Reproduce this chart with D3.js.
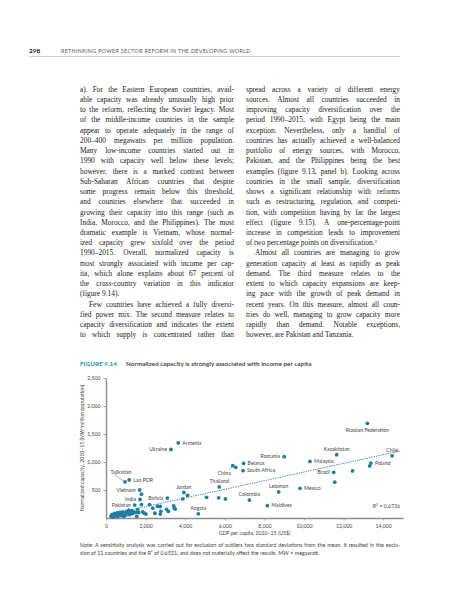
<!DOCTYPE html>
<html>
<head>
<meta charset="utf-8">
<script src="https://cdn.jsdelivr.net/npm/d3@7"></script>
<style>
  body { margin: 0; background: #fff; }
  svg { display: block; }
  .body-text { font-family: "Liberation Serif", "DejaVu Serif", serif; font-size: 7.4px; fill: #222; }
  .chart-text { font-family: Lato, "Open Sans", sans-serif; fill: #444; }
</style>
</head>
<body>
<svg id="page" width="457" height="600"></svg>
<script>
// --- data ---
const names = [
  "Russian Federation", "Kazakhstan", "Chile", "Romania", "Malaysia", "Belarus", "China", "",
  "South Africa", "Brazil", "Poland", "", "", "", "Thailand", "Lebanon", "Mexico", "Colombia",
  "Maldives", "", "", "", "Armenia", "Ukraine", "Tajikistan", "Lao PDR", "Vietnam", "", "India",
  "Pakistan", "", "", "Bolivia", "Jordan", "", "", "Angola",
  "", "", "", "", "", "", "", "", "", "", "", "", "", "", "", "", "", "", "",
  "", "", "", "", "", "", "", "", "", "", "", "", "", "", "", "", "", "", "", "", "", ""
];
const gdp = [
  13200, 11650, 14450, 9000, 10300, 6950, 6400, 6550,
  6920, 11500, 13380, 13320, 12450, 11550, 5720, 8720, 9800, 7240,
  8150, 5080, 5690, 6030, 3650, 3280, 960, 1170, 1700, 1790, 1720,
  1450, 1790, 2200, 3100, 3930, 4120, 3880, 4660,
  2740, 2770, 2740, 3060, 3150, 3420, 3450, 3500, 2360, 2470, 2600, 1850, 1930, 2020, 1600, 1500, 1550, 1650,
  250, 300, 380, 420, 500, 560, 600, 650, 700, 760, 800, 850, 900, 950, 1000, 1050, 1100, 1150, 1200, 1250, 1300, 1350, 1400, 1450, 1750, 1800
];
const capacity = [
  1690, 1130, 1110, 1095, 1010, 975, 935, 905,
  845, 815, 980, 930, 840, 640, 555, 465, 530, 320,
  220, 370, 360, 340, 1340, 1225, 645, 680, 500, 425, 330,
  230, 240, 240, 355, 455, 405, 340, 75,
  205, 120, 70, 155, 120, 215, 175, 160, 175, 85, 210, 110, 85, 70, 150, 100, 30, 95,
  30, 60, 20, 80, 40, 90, 25, 60, 100, 45, 70, 110, 30, 80, 50, 120, 90, 140, 60, 100, 130, 80, 110, 60, 140, 80
];
const xTicks = [0, 2000, 4000, 6000, 8000, 10000, 12000, 14000];
const yTicks = [500, 1000, 1500, 2000, 2500];
const trendGdp = [1200, 14850];
const trendSlope = 0.0772;
const trendIntercept = 49;
const rSquared = "0.6726";

const leftColumn = [
  "a). For the Eastern European countries, avail-",
  "able capacity was already unusually high prior",
  "to the reform, reflecting the Soviet legacy. Most",
  "of the middle-income countries in the sample",
  "appear to operate adequately in the range of",
  "200–400 megawatts per million population.",
  "Many low-income countries started out in",
  "1990 with capacity well below these levels;",
  "however, there is a marked contrast between",
  "Sub-Saharan African countries that despite",
  "some progress remain below this threshold,",
  "and countries elsewhere that succeeded in",
  "growing their capacity into this range (such as",
  "India, Morocco, and the Philippines). The most",
  "dramatic example is Vietnam, whose normal-",
  "ized capacity grew sixfold over the period",
  "1990–2015. Overall, normalized capacity is",
  "most strongly associated with income per cap-",
  "ita, which alone explains about 67 percent of",
  "the cross-country variation in this indicator",
  "(figure 9.14).",
  "Few countries have achieved a fully diversi-",
  "fied power mix. The second measure relates to",
  "capacity diversification and indicates the extent",
  "to which supply is concentrated rather than"
];
const rightColumn = [
  "spread across a variety of different energy",
  "sources. Almost all countries succeeded in",
  "improving capacity diversification over the",
  "period 1990–2015, with Egypt being the main",
  "exception. Nevertheless, only a handful of",
  "countries has actually achieved a well-balanced",
  "portfolio of energy sources, with Morocco,",
  "Pakistan, and the Philippines being the best",
  "examples (figure 9.13, panel b). Looking across",
  "countries in the small sample, diversification",
  "shows a significant relationship with reforms",
  "such as restructuring, regulation, and competi-",
  "tion, with competition having by far the largest",
  "effect (figure 9.15). A one-percentage-point",
  "increase in competition leads to improvement",
  "of two percentage points on diversification.",
  "Almost all countries are managing to grow",
  "generation capacity at least as rapidly as peak",
  "demand. The third measure relates to the",
  "extent to which capacity expansions are keep-",
  "ing pace with the growth of peak demand in",
  "recent years. On this measure, almost all coun-",
  "tries do well, managing to grow capacity more",
  "rapidly than demand. Notable exceptions,",
  "however, are Pakistan and Tanzania."
];
const noteLines = [
  "Note: A sensitivity analysis was carried out for exclusion of outliers two standard deviations from the mean. It resulted in the exclu-",
  "sion of 11 countries and the R² of 0.6531, and does not materially affect the results. MW = megawatt."
];

// label placement per named point (layout only)
const labelSide = {
  "Russian Federation": "below", "Kazakhstan": "above", "Chile": "above", "Romania": "left",
  "Malaysia": "right", "Belarus": "right", "China": "leaderBelow", "South Africa": "right",
  "Brazil": "left", "Poland": "right", "Thailand": "above", "Lebanon": "above", "Mexico": "right",
  "Colombia": "above", "Maldives": "right", "Armenia": "right", "Ukraine": "left",
  "Tajikistan": "leaderAbove", "Lao PDR": "right", "Vietnam": "left", "India": "left",
  "Pakistan": "left", "Bolivia": "left", "Jordan": "above", "Angola": "above"
};

const svg = d3.select("#page");
const teal = "#1f7fa3";

// justified text line helper (size set before measuring)
function textLine(g, str, x0, yb, width, justify, cls, size, sup) {
  const t = g.append("text").attr("class", cls).attr("x", x0).attr("y", yb)
    .style("font-size", size + "px");
  t.append("tspan").text(str);
  if (sup) t.append("tspan").style("font-size", (size * 0.62) + "px").attr("baseline-shift", "super").text(sup);
  if (justify) {
    const w = t.node().getComputedTextLength();
    const spaces = (str.match(/ /g) || []).length;
    if (spaces > 0) t.style("word-spacing", ((width - w) / spaces) + "px");
  }
  return t;
}

// --- running head ---
svg.append("text").attr("x", 29).attr("y", 53)
  .style("font-family", "Lato, sans-serif").style("font-weight", 700).style("font-size", "6.4px")
  .attr("fill", "#222").text("298");
svg.append("text").attr("x", 61).attr("y", 53)
  .style("font-family", "Lato, sans-serif").style("font-size", "5.3px").style("letter-spacing", "0.35px")
  .attr("fill", "#555").text("RETHINKING POWER SECTOR REFORM IN THE DEVELOPING WORLD");
svg.append("line").attr("x1", 29).attr("x2", 400).attr("y1", 56.5).attr("y2", 56.5)
  .attr("stroke", "#c8c8c8").attr("stroke-width", 0.8);

// --- body columns ---
const body = svg.append("g");
const lineH = 10.23, firstBase = 91.8, colW = 154;
leftColumn.forEach((s, i) => {
  const indent = i === 21 ? 9 : 0;
  textLine(body, s, 80 + indent, firstBase + i * lineH, colW - indent, i !== 20, "body-text", 7.4);
});
rightColumn.forEach((s, i) => {
  const indent = i === 16 ? 9 : 0;
  const justify = !(i === 15 || i === rightColumn.length - 1);
  textLine(body, s, 246 + indent, firstBase + i * lineH, colW - indent, justify, "body-text", 7.4,
    i === 15 ? "3" : null);
});

// --- figure title ---
svg.append("text").attr("x", 80).attr("y", 366)
  .style("font-family", "Lato, sans-serif").style("font-weight", 700).style("font-size", "6.4px")
  .attr("fill", "#2a8fb5").text("FIGURE 9.14");
svg.append("text").attr("x", 126).attr("y", 366)
  .style("font-family", "Lato, sans-serif").style("font-weight", 700).style("font-size", "6.4px")
  .attr("fill", "#4a4a4a").text("Normalized capacity is strongly associated with income per capita");

// --- chart ---
const x = d3.scaleLinear().domain([0, 15000]).range([106, 403]);
const y = d3.scaleLinear().domain([0, 2500]).range([518, 378]);
const chart = svg.append("g");

const xAxis = chart.append("g").attr("transform", "translate(0,518)")
  .call(d3.axisBottom(x).tickValues(xTicks).tickFormat(d3.format(",")).tickSize(2.5).tickSizeOuter(0));
const yAxis = chart.append("g").attr("transform", "translate(106,0)")
  .call(d3.axisLeft(y).tickValues(yTicks).tickFormat(d3.format(",")).tickSize(2.5).tickSizeOuter(0));
[xAxis, yAxis].forEach(a => {
  a.attr("font-size", null).attr("font-family", null);
  a.select(".domain").attr("stroke", "#8c8c8c").attr("stroke-width", 1.4);
  a.selectAll(".tick line").attr("stroke", "#8c8c8c").attr("stroke-width", 0.8);
  a.selectAll(".tick text").attr("class", "chart-text").style("font-size", "5.2px").attr("fill", "#444");
});
xAxis.selectAll(".tick text").attr("dy", "0.9em");

// axis titles
chart.append("text").attr("class", "chart-text").style("font-size", "5.2px")
  .attr("text-anchor", "middle")
  .attr("transform", `translate(84,${(y(0) + y(2500)) / 2}) rotate(-90)`)
  .text("Normalized capacity, 2010–15 (MW/million population)");
chart.append("text").attr("class", "chart-text").style("font-size", "5.2px")
  .attr("text-anchor", "middle").attr("x", (x.range()[0] + x.range()[1]) / 2).attr("y", 535)
  .text("GDP per capita, 2010–15 (US$)");

// trend line
chart.append("line")
  .attr("x1", x(trendGdp[0])).attr("y1", y(trendIntercept + trendSlope * trendGdp[0]))
  .attr("x2", x(trendGdp[1])).attr("y2", y(trendIntercept + trendSlope * trendGdp[1]))
  .attr("stroke", teal).attr("stroke-width", 0.9).attr("stroke-dasharray", "1.3,1.1");

// points
const pts = names.map((n, i) => ({ name: n, gdp: gdp[i], cap: capacity[i] }));
chart.selectAll("circle.pt").data(pts).enter().append("circle")
  .attr("class", "pt")
  .attr("cx", d => x(d.gdp)).attr("cy", d => y(d.cap)).attr("r", 1.9)
  .attr("fill", teal);

// labels
const labelled = pts.filter(d => d.name);
labelled.forEach(d => {
  const px = x(d.gdp), py = y(d.cap);
  const side = labelSide[d.name];
  let lx = px, ly = py + 1.8, anchor = "start";
  if (side === "right") { lx = px + 4; }
  else if (side === "left") { lx = px - 4; anchor = "end"; }
  else if (side === "above") { ly = py - 4; anchor = "middle"; }
  else if (side === "below") { ly = py + 8.5; anchor = "middle"; }
  else if (side === "leaderBelow") {
    lx = px - 2; ly = py + 9; anchor = "end";
    chart.append("line").attr("x1", px - 1).attr("y1", py + 1)
      .attr("x2", px - 3).attr("y2", py + 4.5).attr("stroke", "#444").attr("stroke-width", 0.4);
  } else if (side === "leaderAbove") {
    lx = px - 4; ly = py - 8; anchor = "middle";
    chart.append("line").attr("x1", px - 1.5).attr("y1", py - 1)
      .attr("x2", px - 10).attr("y2", py - 6.5).attr("stroke", "#444").attr("stroke-width", 0.4);
  }
  chart.append("text").attr("class", "chart-text").style("font-size", "5.2px")
    .attr("x", lx).attr("y", ly).attr("text-anchor", anchor).text(d.name);
});

// R squared
const r2 = chart.append("text").attr("class", "chart-text").style("font-size", "5.2px")
  .attr("x", 400).attr("y", 508).attr("text-anchor", "end");
r2.append("tspan").text("R");
r2.append("tspan").style("font-size", "3.4px").attr("baseline-shift", "super").text("2");
r2.append("tspan").text(" = " + rSquared);

// note
noteLines.forEach((s, i) => {
  textLine(svg, s, 80, 547 + i * 8, 320, i === 0, "chart-text", 5.4).attr("fill", "#333");
});
</script>
</body>
</html>
